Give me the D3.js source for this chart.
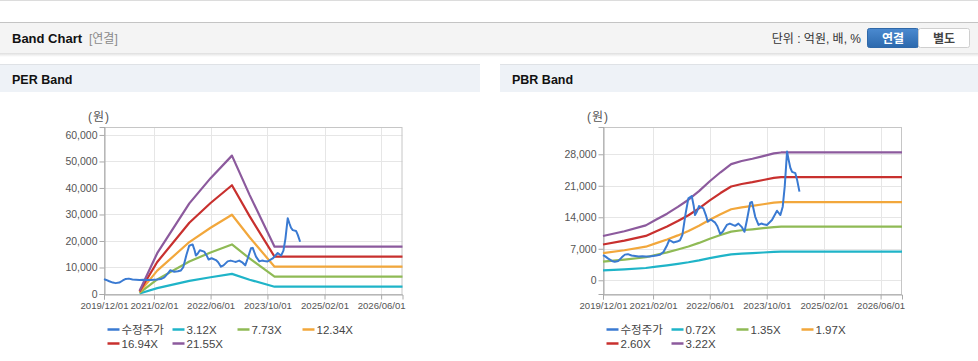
<!DOCTYPE html>
<html><head><meta charset="utf-8">
<script src="https://cdn.jsdelivr.net/npm/d3@7"></script>
<style>
body{margin:0;background:#fff;}
svg{display:block;font-family:"Liberation Sans",Arial,"Noto Sans CJK KR",sans-serif;}
</style>
</head><body>
<svg id="c" width="978" height="361"></svg>
<script>
// ---------- DATA ----------
const xTickLabels = ['2019/12/01','2021/02/01','2022/06/01','2023/10/01','2025/02/01','2026/06/01'];
const xDomain = ['2019/12/01','2026/12/01'];

const priceLabel = '수정주가';
const priceDates = ['2019/12/01','2019/12/20','2020/01/15','2020/02/15','2020/03/10','2020/04/10','2020/05/10','2020/06/05','2020/07/01','2020/08/01','2020/09/01','2020/10/01','2020/11/01','2020/12/01','2021/01/01','2021/02/01','2021/03/01','2021/04/01','2021/05/01','2021/06/01','2021/06/20','2021/07/25','2021/08/25','2021/09/20','2021/10/10','2021/11/07','2021/11/30','2021/12/29','2022/01/15','2022/01/26','2022/02/10','2022/03/01','2022/04/07','2022/05/01','2022/05/15','2022/06/10','2022/07/17','2022/08/05','2022/08/29','2022/09/20','2022/10/25','2022/11/20','2022/12/15','2023/01/04','2023/02/01','2023/03/03','2023/03/25','2023/04/15','2023/05/13','2023/05/28','2023/06/25','2023/07/23','2023/08/15','2023/09/04','2023/10/03','2023/11/15','2023/12/28','2024/01/26','2024/02/15','2024/03/03','2024/03/23','2024/04/06','2024/04/20','2024/05/05','2024/06/02','2024/06/17','2024/07/07'];
const priceValues = [5600,5300,4800,4300,4100,4300,5100,5700,5800,5500,5400,5300,5350,5300,5300,5400,5500,5650,6300,7800,8950,8400,8600,8900,10100,14900,18200,18700,16500,14500,15200,16500,16000,14300,13000,13500,12800,12000,10300,10800,12300,12600,12300,12100,12600,11800,10800,13400,17250,17400,14100,12300,12600,12450,12300,13400,15450,14500,16350,20800,28600,26700,25000,24100,23800,22300,19700];

// PER band
const perLabels = ['3.12X','7.73X','12.34X','16.94X','21.55X'];
const perBandDates = ['2020/10/01','2021/03/01','2021/12/01','2022/06/01','2022/12/01','2023/05/01','2023/12/01','2026/12/01'];
const per312  = [180, 2220, 4950, 6320, 7600, 5400, 2750, 2750];
const per773  = [450, 5510, 12280, 15660, 18700, 13400, 6530, 6530];
const per1234 = [715, 8800, 19600, 25000, 29900, 21400, 10300, 10300];
const per1694 = [980, 12070, 26900, 34320, 41030, 29370, 14080, 14080];
const per2155 = [1250, 15400, 34200, 43700, 52200, 37400, 17850, 17850];
const perYTicks = [0,10000,20000,30000,40000,50000,60000];

// PBR band
const pbrLabels = ['0.72X','1.35X','1.97X','2.60X','3.22X'];
const pbrBandDates = ['2019/12/01','2020/06/01','2020/12/01','2021/03/01','2021/06/01','2021/09/01','2021/12/01','2022/03/01','2022/06/01','2022/09/01','2022/12/01','2023/03/01','2023/06/01','2023/09/01','2023/12/01','2024/02/01','2026/12/01'];
const pbr072 = [2200,2437,2728,3019,3309,3645,4002,4427,4919,5366,5769,5925,6037,6171,6306,6350,6350];
const pbr135 = [4126,4570,5115,5661,6206,6835,7505,8302,9225,10063,10818,11111,11321,11573,11824,11908,11908];
const pbr197 = [6020,6669,7464,8259,9055,9972,10951,12114,13460,14683,15784,16213,16519,16886,17253,17375,17375];
const pbr260 = [7946,8802,9851,10901,11951,13162,14454,15989,17765,19380,20834,21399,21803,22287,22772,22933,22933];
const pbr322 = [9840,10900,12200,13500,14800,16300,17900,19800,22000,24000,25800,26500,27000,27600,28200,28400,28400];
const pbrYTicks = [0,7000,14000,21000,28000];

const priceColor = '#3a7ad2';
const bandColors = ['#1fb4c8','#8fba55','#f2a73b','#c8302e','#8c5a9d'];

// ---------- DRAW ----------
const parse = d3.timeParse('%Y/%m/%d');
const svg = d3.select('#c');
const defs = svg.append('defs');

svg.append('rect').attr('x',0).attr('y',0).attr('width',978).attr('height',1).attr('fill','#dcdcdc');

const sh = defs.append('linearGradient').attr('id','sh').attr('x1',0).attr('y1',0).attr('x2',0).attr('y2',1);
sh.append('stop').attr('offset','0%').attr('stop-color','#000').attr('stop-opacity',0.13);
sh.append('stop').attr('offset','100%').attr('stop-color','#000').attr('stop-opacity',0);
svg.append('rect').attr('x',0).attr('y',22).attr('width',978).attr('height',31).attr('fill','#f4f4f4');
svg.append('rect').attr('x',0).attr('y',22).attr('width',978).attr('height',1).attr('fill','#c4c4c4');
svg.append('rect').attr('x',0).attr('y',53).attr('width',978).attr('height',4).attr('fill','url(#sh)');
svg.append('text').attr('x',12).attr('y',43).attr('font-size',13).attr('font-weight','bold').attr('fill','#111').text('Band Chart');
svg.append('text').attr('x',89).attr('y',43).attr('font-size',12).attr('fill','#8a8a8a').text('[연결]');
svg.append('text').attr('x',861).attr('y',43).attr('text-anchor','end').attr('font-size',12).attr('fill','#333').text('단위 : 억원, 배, %');
const bg = defs.append('linearGradient').attr('id','bg').attr('x1',0).attr('y1',0).attr('x2',0).attr('y2',1);
bg.append('stop').attr('offset','0%').attr('stop-color','#4b8ad0');
bg.append('stop').attr('offset','100%').attr('stop-color','#2c69ad');
svg.append('rect').attr('x',867.5).attr('y',28.5).attr('width',51).attr('height',19).attr('rx',2).attr('fill','url(#bg)').attr('stroke','#2f68a8');
svg.append('text').attr('x',893).attr('y',42.5).attr('text-anchor','middle').attr('font-size',12).attr('font-weight','bold').attr('fill','#fff').text('연결');
svg.append('rect').attr('x',918.5).attr('y',28.5).attr('width',51).attr('height',19).attr('rx',2).attr('fill','#fff').attr('stroke','#cfcfcf');
svg.append('text').attr('x',944).attr('y',42.5).attr('text-anchor','middle').attr('font-size',12).attr('font-weight','bold').attr('fill','#444').text('별도');

function panelTitle(x0, w, label){
  svg.append('rect').attr('x',x0).attr('y',64).attr('width',w).attr('height',28).attr('fill','#eef2f7');
  svg.append('rect').attr('x',x0).attr('y',64).attr('width',w).attr('height',1).attr('fill','#dfe2e6');
  svg.append('text').attr('x',x0+12).attr('y',84).attr('font-size',12.5).attr('font-weight','bold').attr('fill','#111').text(label);
}
panelTitle(0, 480, 'PER Band');
panelTitle(500, 478, 'PBR Band');

function drawChart(o){
  const x = d3.scaleTime().domain(xDomain.map(parse)).range([o.left, o.right]);
  const y = d3.scaleLinear().domain(o.yDomain).range([o.bottom, o.top]);
  const g = svg.append('g');
  g.selectAll('.vg').data(xTickLabels.slice(1)).enter().append('line')
    .attr('x1',d=>Math.round(x(parse(d)))+0.5).attr('x2',d=>Math.round(x(parse(d)))+0.5)
    .attr('y1',o.top).attr('y2',o.bottom).attr('stroke','#e6e6e6');
  g.selectAll('.hg').data(o.yTicks).enter().append('line')
    .attr('x1',o.left).attr('x2',o.right)
    .attr('y1',d=>Math.round(y(d))+0.5).attr('y2',d=>Math.round(y(d))+0.5).attr('stroke','#e6e6e6');
  g.append('rect').attr('x',o.left+0.5).attr('y',o.top+0.5).attr('width',o.right-o.left-1).attr('height',o.bottom-o.top)
    .attr('fill','none').attr('stroke','#c6c6c6');
  const ya = d3.axisLeft(y).tickValues(o.yTicks).tickFormat(d3.format(',')).tickSize(5).tickPadding(2);
  const yg = g.append('g').attr('transform',`translate(${o.left+0.5},0)`).call(ya);
  const xa = d3.axisBottom(x).tickValues(xTickLabels.map(parse)).tickFormat(d3.timeFormat('%Y/%m/%d')).tickSize(5).tickPadding(3);
  const xg = g.append('g').attr('transform',`translate(0,${o.bottom+0.5})`).call(xa);
  [yg,xg].forEach(a=>{
    a.select('.domain').attr('stroke','#a9a9a9');
    a.selectAll('.tick line').attr('stroke','#a9a9a9');
    a.selectAll('text').attr('fill','#555').attr('font-family','"Liberation Sans",Arial,sans-serif');
  });
  yg.selectAll('text').attr('font-size',10.5);
  xg.selectAll('text').attr('font-size',9.6);
  g.append('text').attr('x',o.left-5).attr('y',121).attr('text-anchor','middle').attr('font-size',12).attr('letter-spacing',1).attr('fill','#555').text('(원)');
  const line = d3.line().x(d=>x(d[0])).y(d=>y(d[1]));
  o.bands.forEach((b,i)=>{
    const pts = o.bandDates.map((d,j)=>[parse(d), b[j]]);
    g.append('path').attr('d',line(pts)).attr('fill','none').attr('stroke',bandColors[i]).attr('stroke-width',2.2).attr('stroke-linejoin','round');
  });
  const pp = priceDates.map((d,j)=>[parse(d), priceValues[j]]);
  g.append('path').attr('d',line(pp)).attr('fill','none').attr('stroke',priceColor).attr('stroke-width',2).attr('stroke-linejoin','round');
  const items = [{label:priceLabel,color:priceColor}].concat(o.labels.map((l,i)=>({label:l,color:bandColors[i]})));
  items.forEach((it,i)=>{
    const col = i%4, row = Math.floor(i/4);
    const lx = o.left + 3.5 + col*65, ly = 329.5 + row*14;
    g.append('line').attr('x1',lx).attr('x2',lx+12).attr('y1',ly).attr('y2',ly).attr('stroke',it.color).attr('stroke-width',2.5);
    g.append('text').attr('x',lx+14).attr('y',ly+4).attr('font-size',11.5).attr('fill','#444').text(it.label);
  });
}

drawChart({left:104, right:402.5, top:127, bottom:294, yDomain:[0,63000], yTicks:perYTicks,
  bandDates:perBandDates, bands:[per312,per773,per1234,per1694,per2155], labels:perLabels});
drawChart({left:603, right:902, top:127, bottom:294, yDomain:[-3050,34060], yTicks:pbrYTicks,
  bandDates:pbrBandDates, bands:[pbr072,pbr135,pbr197,pbr260,pbr322], labels:pbrLabels});
</script>
</body></html>
